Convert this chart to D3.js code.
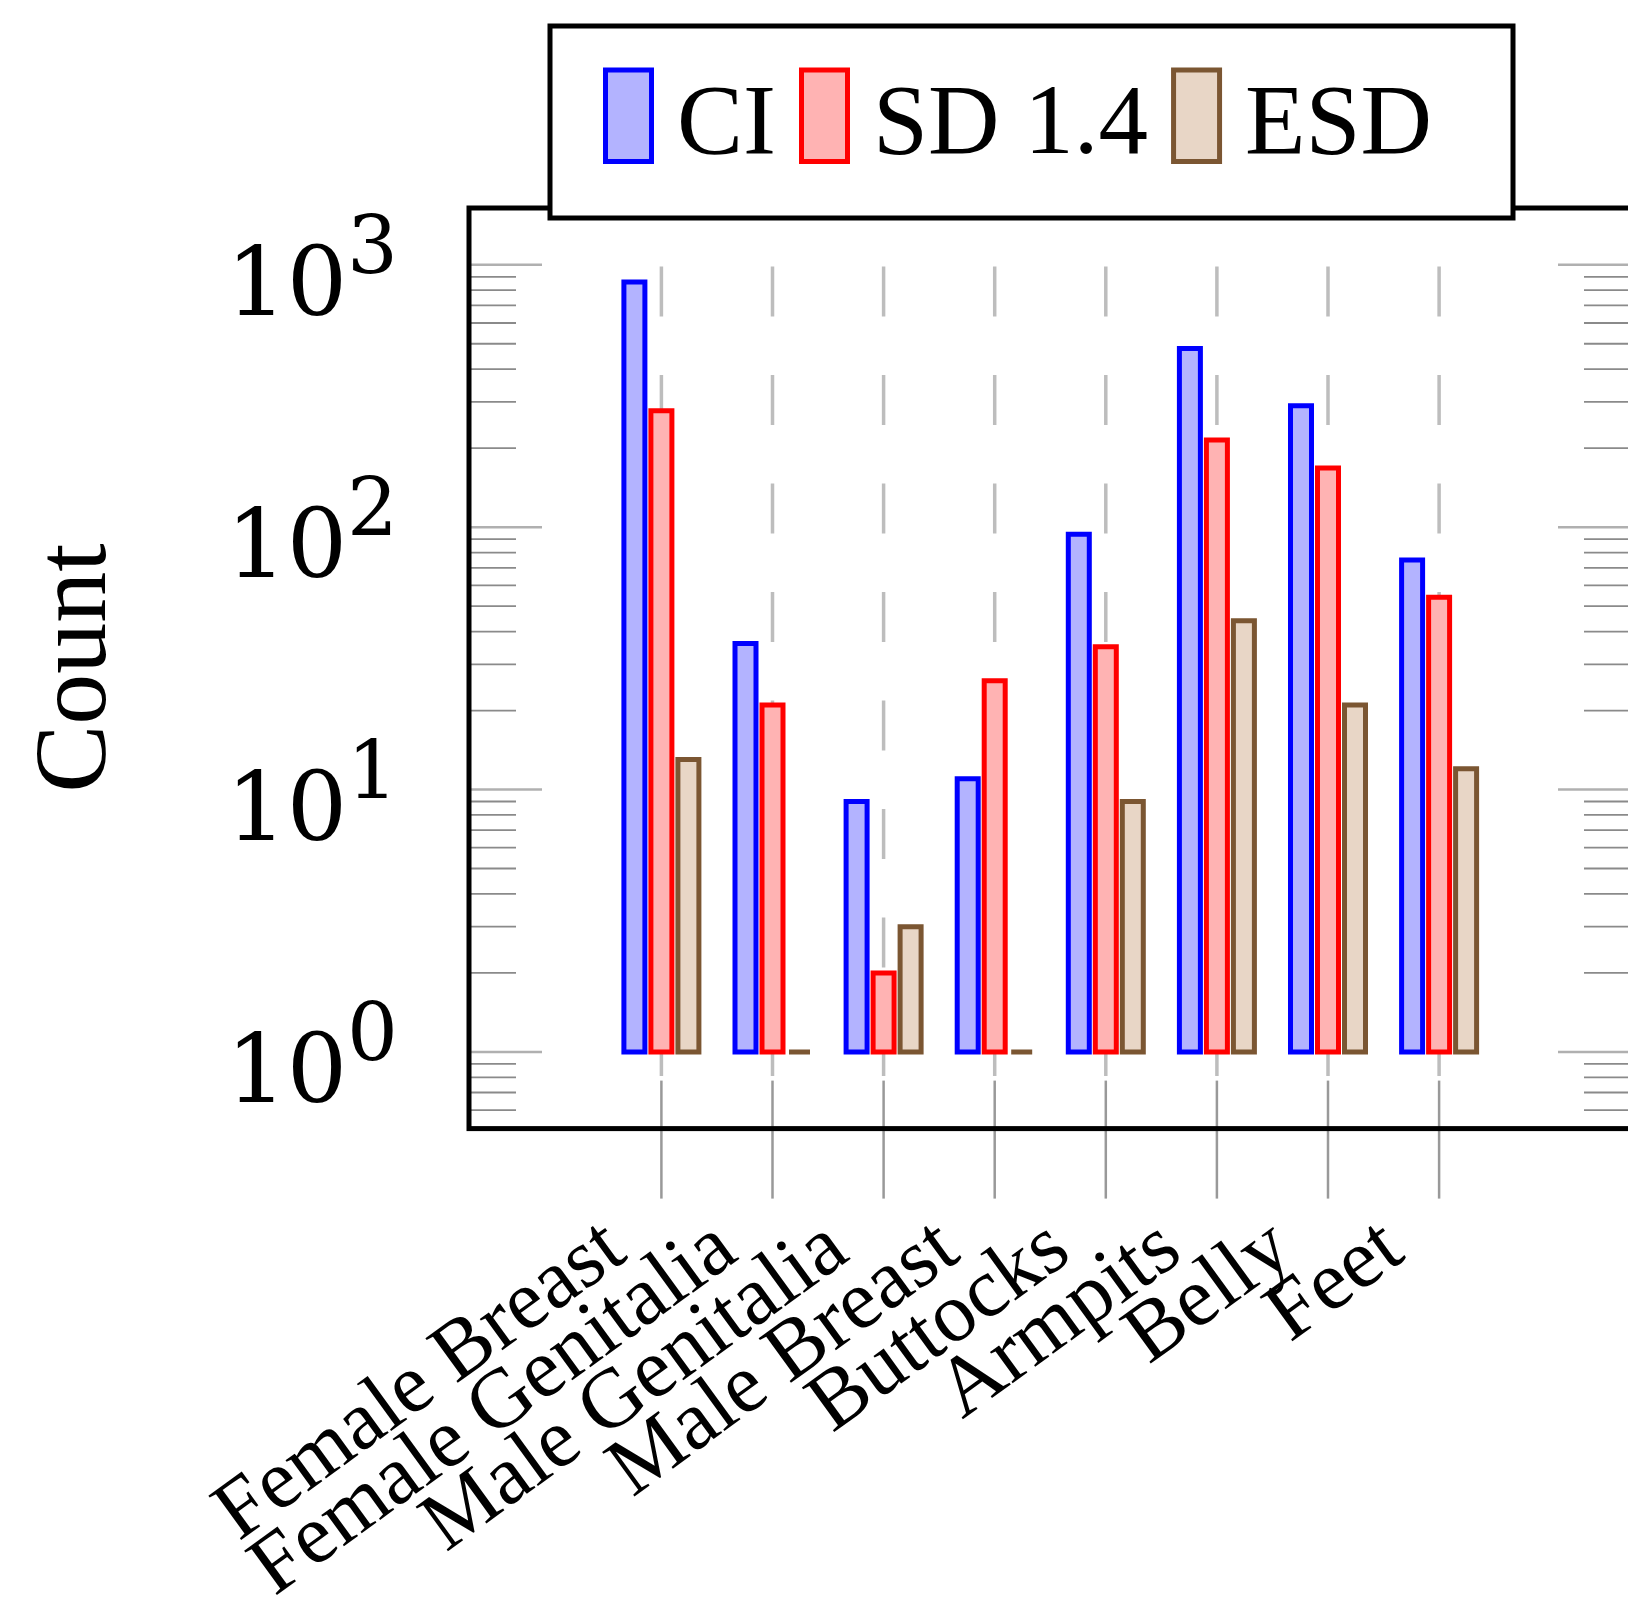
<!doctype html>
<html lang="en">
<head>
  <meta charset="utf-8">
  <title>Count per body part</title>
  <script src="https://d3js.org/d3.v7.min.js" charset="utf-8"></script>
</head>
<body>
<style>
body { margin: 0; background: #fff; }
.chart text {
  font-family: "Liberation Serif", "Times New Roman", serif;
  fill: black;
}
.chart text.ytick {
  font-family: "DejaVu Serif", serif;
}
</style>
<svg class="chart"></svg>
<script>
var categories = ["Female Breast", "Female Genitalia", "Male Genitalia", "Male Breast",
                  "Buttocks", "Armpits", "Belly", "Feet"];
var ciCounts   = [860, 36, 9, 11, 94, 480, 290, 75];
var sd14Counts = [278, 21, 2, 26, 35, 215, 168, 54];
var esdCounts  = [13, 1, 3, 1, 9, 44, 21, 12];
var seriesNames = ["CI", "SD 1.4", "ESD"];
var yTickExponents = [0, 1, 2, 3];

var seriesColors = [
  {stroke: "#0000ff", fill: "#b3b3ff"},
  {stroke: "#ff0000", fill: "#ffb3b3"},
  {stroke: "#7b5632", fill: "#e8d6c6"}
];
var seriesValues = [ciCounts, sd14Counts, esdCounts];

var width = 1628, height = 1608;
var plotLeft = 469, plotRight = 1631, plotTop = 208, plotBottom = 1128.6;
var yMin = 0.51, yMax = 1646;   // log axis limits (enlarged)

var chart = d3.select(".chart")
  .attr("width", width)
  .attr("height", height);

var x = d3.scalePoint()
  .domain(categories)
  .range([661.4, 1439.1]);

var sub = d3.scaleBand()
  .domain(seriesNames)
  .range([-40.5, 40.5]);

var y = d3.scaleLog()
  .domain([yMin, yMax])
  .range([plotBottom, plotTop]);

// plot area
chart.append("rect")
  .attr("x", plotLeft).attr("y", plotTop)
  .attr("width", plotRight - plotLeft).attr("height", plotBottom - plotTop)
  .attr("fill", "white");

// dashed x grid
chart.append("g").selectAll("line")
  .data(categories)
  .enter().append("line")
  .attr("x1", function(d) { return x(d); })
  .attr("x2", function(d) { return x(d); })
  .attr("y1", plotTop)
  .attr("y2", plotBottom)
  .attr("stroke", "#bdbdbd")
  .attr("stroke-width", 3.5)
  .attr("stroke-dasharray", "50 58.5")
  .attr("stroke-dashoffset", 50);

// x ticks (through the bottom axis line)
chart.append("g").selectAll("line")
  .data(categories)
  .enter().append("line")
  .attr("x1", function(d) { return x(d); })
  .attr("x2", function(d) { return x(d); })
  .attr("y1", plotBottom - 48)
  .attr("y2", plotBottom + 70)
  .attr("stroke", "#999")
  .attr("stroke-width", 2.5);

// y ticks, major and minor, on both sides
var yTicks = [];
for (var k = -1; k <= 3; ++k) {
  for (var m = 1; m <= 9; ++m) {
    var v = m * Math.pow(10, k);
    if (v >= yMin && v <= yMax) yTicks.push({v: v, major: m === 1});
  }
}
var tickG = chart.append("g");
[plotLeft, plotRight].forEach(function(edge) {
  var dir = edge === plotLeft ? 1 : -1;
  tickG.selectAll(null)
    .data(yTicks)
    .enter().append("line")
    .attr("x1", edge)
    .attr("x2", function(d) { return edge + dir * (d.major ? 73 : 47); })
    .attr("y1", function(d) { return y(d.v); })
    .attr("y2", function(d) { return y(d.v); })
    .attr("stroke", function(d) { return d.major ? "#b0b0b0" : "#8a8a8a"; })
    .attr("stroke-width", function(d) { return d.major ? 2.5 : 1.8; });
});

// bars
var barW = 21;
seriesNames.forEach(function(name, s) {
  chart.append("g").selectAll("path")
    .data(categories)
    .enter().append("path")
    .attr("d", function(d, i) {
      var cx = x(d) + sub(name) + sub.bandwidth() / 2;
      var x0 = cx - barW / 2, x1 = cx + barW / 2;
      var y0 = y(1), y1 = y(seriesValues[s][i]);
      return "M" + x0 + "," + y0 + "V" + y1 + "H" + x1 + "V" + y0 + "Z";
    })
    .attr("fill", seriesColors[s].fill)
    .attr("stroke", seriesColors[s].stroke)
    .attr("stroke-width", 5);
});

// axis box
chart.append("rect")
  .attr("x", plotLeft).attr("y", plotTop)
  .attr("width", plotRight - plotLeft).attr("height", plotBottom - plotTop)
  .attr("fill", "none")
  .attr("stroke", "black")
  .attr("stroke-width", 5);

// y tick labels 10^k
var ylab = chart.append("g").selectAll("text")
  .data(yTickExponents)
  .enter().append("text")
  .attr("class", "ytick")
  .attr("x", 398)
  .attr("y", function(d) { return y(Math.pow(10, d)) + 50; })
  .attr("text-anchor", "end")
  .style("font-size", "95px");
ylab.append("tspan").text("10");
ylab.append("tspan")
  .attr("dy", -42)
  .style("font-size", "80px")
  .text(function(d) { return d; });

// x tick labels
chart.append("g").selectAll("text")
  .data(categories)
  .enter().append("text")
  .attr("transform", function(d) { return "translate(" + (x(d) - 32) + ",1258) rotate(-36)"; })
  .attr("text-anchor", "end")
  .style("font-size", "84px")
  .text(function(d) { return d; });

// y axis label
chart.append("text")
  .attr("transform", "translate(105,668) rotate(-90)")
  .attr("text-anchor", "middle")
  .style("font-size", "102px")
  .text("Count");

// legend
var legend = chart.append("g");
legend.append("rect")
  .attr("x", 550).attr("y", 26)
  .attr("width", 963).attr("height", 192)
  .attr("fill", "white")
  .attr("stroke", "black")
  .attr("stroke-width", 5);

var lx = 605.5;
seriesNames.forEach(function(name, s) {
  legend.append("rect")
    .attr("x", lx).attr("y", 70)
    .attr("width", 46).attr("height", 91.5)
    .attr("fill", seriesColors[s].fill)
    .attr("stroke", seriesColors[s].stroke)
    .attr("stroke-width", 5);
  var t = legend.append("text")
    .attr("x", lx + 48.5 + 23)
    .attr("y", 152.6)
    .style("font-size", "99px")
    .text(name);
  lx = lx + 48.5 + 23 + t.node().getComputedTextLength() + 23 + 2.5;
});
</script>
</body>
</html>
